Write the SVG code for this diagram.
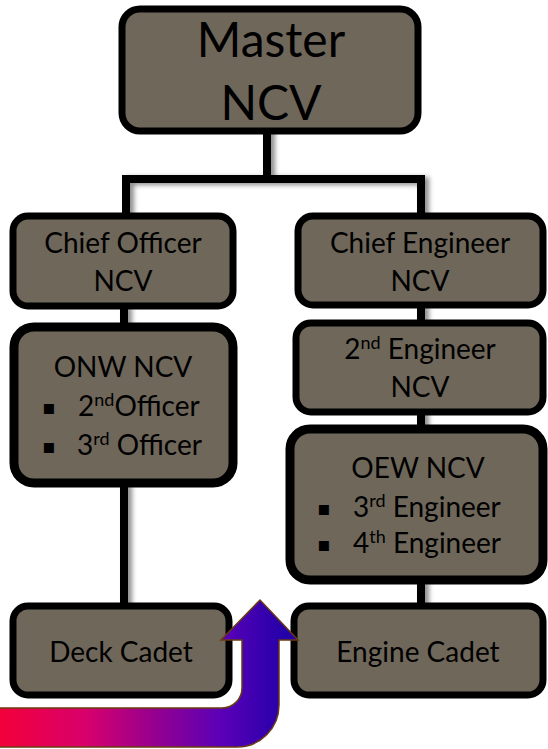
<svg xmlns="http://www.w3.org/2000/svg" width="548" height="749" viewBox="0 0 548 749">
<style>
.box{fill:#6f675a;stroke:#000;stroke-width:7}
.boxb{fill:#6f675a;stroke:#000;stroke-width:9}
.t{font-family:Lato,"Liberation Sans",sans-serif;font-size:28px;fill:#000;text-anchor:middle}
.tl{font-family:Lato,"Liberation Sans",sans-serif;font-size:28px;fill:#000}
.b{font-family:"DejaVu Sans",sans-serif;font-size:20px;fill:#000}
.big{font-family:Lato,"Liberation Sans",sans-serif;font-size:48px;fill:#000;text-anchor:middle}
.ln{stroke:#000;stroke-width:8;fill:none;stroke-linecap:square}
</style>
<defs>
<filter id="sh" x="-50%" y="-50%" width="200%" height="200%">
<feDropShadow dx="4" dy="2" stdDeviation="2.5" flood-color="#000" flood-opacity="0.45"/>
</filter>
<linearGradient id="ag" gradientUnits="userSpaceOnUse" x1="0" y1="0" x2="285" y2="0">
<stop offset="0" stop-color="#f2003a"/>
<stop offset="0.3" stop-color="#d8006c"/>
<stop offset="0.55" stop-color="#930090"/>
<stop offset="0.78" stop-color="#5a00b8"/>
<stop offset="1" stop-color="#2400a8"/>
</linearGradient>
</defs>
<g id="connectors" filter="url(#sh)">
<path class="ln" d="M267 131V179M126 179H421M126 179V213M421 179V213"/>
<path class="ln" d="M124 309V323M124 487V602"/>
<path class="ln" d="M421 308V320M421 415V425M421 584V602"/>
</g>
<g id="master">
<rect class="box" x="122" y="9" width="296" height="122" rx="18"/>
<text class="big" x="271" y="57">Master</text>
<text class="big" x="271" y="120">NCV</text>
</g>
<g id="chief-officer">
<rect class="box" x="13" y="216" width="220" height="90" rx="15"/>
<text class="t" x="123" y="253">Chief Officer</text>
<text class="t" x="123" y="291">NCV</text>
</g>
<g id="onw">
<rect class="boxb" x="14" y="327" width="219" height="156" rx="20"/>
<text class="t" x="123" y="377">ONW NCV</text>
<text class="b" x="42" y="414">▪</text>
<text class="tl" x="78" y="416">2<tspan font-size="18" dy="-10">nd</tspan><tspan dy="10">Officer</tspan></text>
<text class="b" x="42" y="453">▪</text>
<text class="tl" x="77" y="455">3<tspan font-size="18" dy="-10">rd</tspan><tspan dy="10"> Officer</tspan></text>
</g>
<g id="chief-engineer">
<rect class="box" x="298" y="216" width="245" height="89" rx="15"/>
<text class="t" x="420" y="253">Chief Engineer</text>
<text class="t" x="420" y="291">NCV</text>
</g>
<g id="second-engineer">
<rect class="box" x="296" y="323" width="247" height="89" rx="15"/>
<text class="t" x="420" y="359">2<tspan font-size="18" dy="-10">nd</tspan><tspan dy="10"> Engineer</tspan></text>
<text class="t" x="420" y="397">NCV</text>
</g>
<g id="oew">
<rect class="boxb" x="290" y="429" width="253" height="151" rx="20"/>
<text class="t" x="418" y="478">OEW NCV</text>
<text class="b" x="317" y="515">▪</text>
<text class="tl" x="353" y="517">3<tspan font-size="18" dy="-10">rd</tspan><tspan dy="10"> Engineer</tspan></text>
<text class="b" x="317" y="551">▪</text>
<text class="tl" x="353" y="553">4<tspan font-size="18" dy="-10">th</tspan><tspan dy="10"> Engineer</tspan></text>
</g>
<g id="deck-cadet">
<rect class="box" x="13" y="606" width="216" height="89" rx="15"/>
<text class="t" x="121" y="662">Deck Cadet</text>
</g>
<g id="engine-cadet">
<rect class="box" x="294" y="606" width="249" height="89" rx="15"/>
<text class="t" x="418" y="662">Engine Cadet</text>
</g>
<g id="arrow">
<path d="M-5 708H222A20 20 0 0 0 242 688V640H221L260 600L298 640H279V705A42 42 0 0 1 237 747H-5Z" fill="url(#ag)" stroke="#6b3a10" stroke-width="1.5"/>
</g>
</svg>
